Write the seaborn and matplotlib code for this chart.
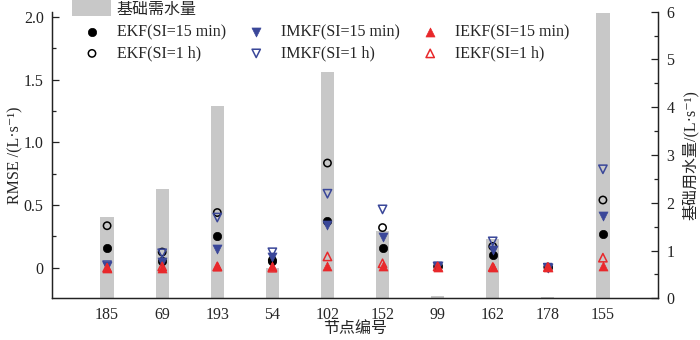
import numpy as np
import pandas as pd
import matplotlib
matplotlib.use("Agg")
import matplotlib.pyplot as plt
import seaborn as sns
from matplotlib.ticker import MultipleLocator, FuncFormatter

# ---- data ----
nodes = ["185", "69", "193", "54", "102", "152", "99", "162", "178", "155"]
base_demand = [1.70, 2.28, 4.03, 0.64, 4.74, 1.40, 0.05, 1.24, 0.02, 5.98]
ekf_15 = [0.16, 0.05, 0.255, 0.05, 0.375, 0.16, 0.01, 0.10, 0.005, 0.27]
ekf_1h = [0.335, 0.125, 0.44, 0.06, 0.835, 0.32, 0.01, 0.17, 0.005, 0.54]
imkf_15 = [0.015, 0.048, 0.15, 0.085, 0.34, 0.245, 0.01, 0.145, 0.0, 0.41]
imkf_1h = [0.02, 0.115, 0.40, 0.123, 0.59, 0.465, 0.01, 0.21, 0.0, 0.785]
iekf_15 = [0.0, 0.0, 0.01, 0.01, 0.01, 0.01, 0.005, 0.003, 0.005, 0.01]
iekf_1h = [0.0, 0.01, 0.01, 0.0, 0.09, 0.035, 0.01, 0.005, 0.005, 0.08]

bar_label = "基础需水量"
series_labels = ["EKF(SI=15 min)", "EKF(SI=1 h)", "IMKF(SI=15 min)",
                 "IMKF(SI=1 h)", "IEKF(SI=15 min)", "IEKF(SI=1 h)"]

sns.set_theme(style="ticks")
plt.rcParams["font.family"] = ["Liberation Serif", "Noto Sans CJK SC", "DejaVu Serif"]
plt.rcParams["axes.unicode_minus"] = False
FS = 11.5

fig = plt.figure(figsize=(7.0, 3.4), dpi=100)
ax = fig.add_axes([52 / 700, (340 - 298.3) / 340, (658 - 52) / 700, (298.3 - 11.7) / 340])
ax2 = ax.twinx()

# bars on the right axis
sns.barplot(x=nodes, y=base_demand, ax=ax2, color="#c8c8c8", saturation=1,
            width=0.24, label=bar_label, edgecolor="none")
if ax2.get_legend() is not None:
    ax2.get_legend().remove()

# markers on left axis
pos = np.arange(len(nodes))
navy = "#3a4799"
red = "#e8282b"
specs = [
    (ekf_15, "o", "black", True, 36),
    (ekf_1h, "o", "black", False, 28),
    (imkf_15, "v", navy, True, 42),
    (imkf_1h, "v", navy, False, 36),
    (iekf_15, "^", red, True, 42),
    (iekf_1h, "^", red, False, 36),
]
for (vals, mk, col, filled, sz), lab in zip(specs, series_labels):
    if filled:
        sns.scatterplot(x=pos, y=vals, ax=ax, marker=mk, color=col, edgecolor=col,
                        linewidth=0.5, s=sz, legend=False, label=lab, zorder=3)
    else:
        sns.scatterplot(x=pos, y=vals, ax=ax, marker=mk, color=col, facecolor="none",
                        edgecolor=col, linewidth=1.1, s=sz, legend=False, label=lab, zorder=3)
if ax.get_legend() is not None:
    ax.get_legend().remove()

ax.set_zorder(ax2.get_zorder() + 1)
ax.patch.set_visible(False)

# axes limits and ticks
ax.set_xlim(-1.0, 10.0)
ax.set_ylim(-0.244, 2.042)
ax2.set_ylim(0, 6.0)
ax.set_xticks(pos)
ax.set_xticklabels(nodes, fontsize=FS)
ax.tick_params(axis="x", length=0, pad=6)

ax.yaxis.set_major_locator(MultipleLocator(0.5))
ax.yaxis.set_minor_locator(MultipleLocator(0.25))
ax.yaxis.set_major_formatter(FuncFormatter(lambda v, p: "0" if abs(v) < 1e-9 else f"{v:.1f}"))
ax2.yaxis.set_major_locator(MultipleLocator(1))
ax2.yaxis.set_minor_locator(MultipleLocator(0.5))
for a in (ax, ax2):
    a.tick_params(axis="y", which="major", direction="in", length=5, width=0.9,
                  labelsize=FS, pad=6, colors="#222222")
    a.tick_params(axis="y", which="minor", direction="in", length=3, width=0.9, colors="#222222")
    a.spines["top"].set_visible(False)
    for s in a.spines.values():
        s.set_linewidth(0.9)
        s.set_color("#222222")
ax2.tick_params(axis="y", labelright=True, labelleft=False)

ax.set_xlabel("节点编号", fontsize=FS, labelpad=-1)
ax.set_ylabel("RMSE /(L·s⁻¹)", fontsize=FS, labelpad=0)
ax2.set_ylabel("基础用水量/(L·s⁻¹)", fontsize=FS, labelpad=6)
ax.grid(False)
ax2.grid(False)

# legends
h2, l2 = ax2.get_legend_handles_labels()
leg1 = fig.legend(h2, l2, loc="upper left", bbox_to_anchor=(72 / 700, 1.0),
                  frameon=False, fontsize=FS, borderpad=0, borderaxespad=0,
                  handlelength=2.45, handleheight=1.2, handletextpad=0.35)
h1, l1 = ax.get_legend_handles_labels()
leg2 = fig.legend(h1, l1, loc="upper left", bbox_to_anchor=(80 / 700, 1 - 24 / 340),
                  ncol=3, frameon=False, fontsize=FS, borderpad=0, borderaxespad=0,
                  handlelength=1.5, handletextpad=0.8, columnspacing=1.15,
                  labelspacing=0.35, scatterpoints=1)

fig.savefig("out.png", dpi=100)
